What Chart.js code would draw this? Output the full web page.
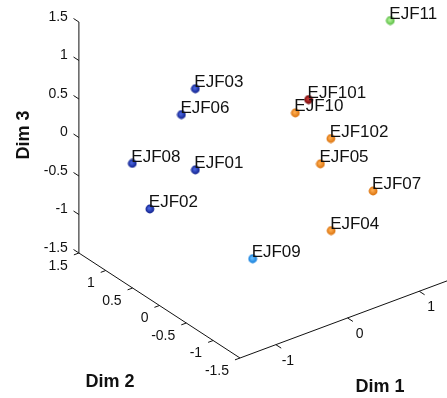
<!DOCTYPE html>
<html>
<head>
<meta charset="utf-8">
<script src="https://cdn.jsdelivr.net/npm/chart.js@4.4.0/dist/chart.umd.min.js"></script>
<style>
  html, body { margin: 0; padding: 0; background: #fff; }
  #graf { display: block; }
</style>
</head>
<body>
<canvas id="graf" width="447" height="398"></canvas>
<script>
// coordenadas MDS de cada amostra (Dim 1, Dim 2, Dim 3)
let nomes = ['EJF01', 'EJF02', 'EJF03', 'EJF04', 'EJF05', 'EJF06', 'EJF07', 'EJF08', 'EJF09', 'EJF10', 'EJF11', 'EJF101', 'EJF102']
let dim1 = [-0.55, -1.11, -0.40, 0.52, 0.82, -0.52, 1.18, -0.98, -0.35, 0.62, 1.42, 0.73, 0.89]
let dim2 = [0.60, 0.70, 0.80, -0.50, 0.10, 0.90, -0.40, 1.20, -0.20, 0.30, -0.40, 0.20, 0.00]
let dim3 = [-0.34, -0.70, 0.57, -1.00, -0.51, 0.23, -0.76, -0.38, -1.20, 0.13, 1.37, 0.31, -0.16]
let grupos = ['azul', 'azul', 'azul', 'laranja', 'laranja', 'azul', 'laranja', 'azul', 'celeste', 'laranja', 'verde', 'vinho', 'laranja']

let ticksDim12 = [-1.5, -1, -0.5, 0, 0.5, 1, 1.5]
let ticksDim1 = [-1, 0, 1]
let ticksDim3 = [-1.5, -1, -0.5, 0, 0.5, 1, 1.5]
let limite = 1.5

// cores dos marcadores: [centro, borda]
const paleta = {
    azul: ['#4a66e0', '#0c1c88'],
    laranja: ['#ffad50', '#d86e08'],
    vinho: ['#c83a3a', '#6e0000'],
    verde: ['#b4f49a', '#52b83c'],
    celeste: ['#6cc0ff', '#0a78d8']
}

// vista 3D (azimute/elevacao fixos) convertida em vetores de tela
const origem = { x: 240, y: 358 }
const e1 = { x: 71.7, y: -26.7 }
const e2 = { x: -53.7, y: -35 }
const e3 = { x: 0, y: -77 }

function projetar(a, b, c) {
    let u = a + limite, v = b + limite, w = c + limite
    return {
        x: origem.x + u * e1.x + v * e2.x + w * e3.x,
        y: origem.y + u * e1.y + v * e2.y + w * e3.y
    }
}

function marcador(grupo) {
    let cv = document.createElement('canvas')
    cv.width = 10
    cv.height = 10
    let c = cv.getContext('2d')
    let g = c.createRadialGradient(4.3, 4.3, 0.5, 5, 5, 4.6)
    g.addColorStop(0, paleta[grupo][0])
    g.addColorStop(1, paleta[grupo][1])
    c.fillStyle = g
    c.beginPath()
    c.arc(5, 5, 4.4, 0, Math.PI * 2)
    c.fill()
    return cv
}

let pontos = nomes.map((n, i) => projetar(dim1[i], dim2[i], dim3[i]))
let estilos = grupos.map(g => marcador(g))

function linha(p, q) {
    return {
        type: 'scatter',
        data: [p, q],
        showLine: true,
        borderColor: '#111',
        borderWidth: 1,
        pointRadius: 0,
        pointHoverRadius: 0
    }
}

let datasets = [{
    type: 'scatter',
    data: pontos,
    pointStyle: estilos,
    pointRadius: 5,
    pointHoverRadius: 5
}]

// eixos da caixa
datasets.push(linha(projetar(-limite, limite, -limite), projetar(-limite, limite, limite)))
datasets.push(linha(projetar(-limite, limite, -limite), projetar(-limite, -limite, -limite)))
datasets.push(linha(projetar(-limite, -limite, -limite), projetar(limite, -limite, -limite)))

// marcas de escala (tamanho em unidades de dados)
ticksDim3.forEach(t => datasets.push(linha(projetar(-limite, limite, t), projetar(-limite, limite + 0.1, t))))
ticksDim12.forEach(t => datasets.push(linha(projetar(-limite, t, -limite), projetar(-limite - 0.07, t, -limite))))
ticksDim1.forEach(t => datasets.push(linha(projetar(t, -limite, -limite), projetar(t, -limite - 0.1, -limite))))

const textos = {
    id: 'textos',
    afterDatasetsDraw(chart) {
        let ctx = chart.ctx
        let sx = chart.scales.x, sy = chart.scales.y
        let px = p => ({ x: sx.getPixelForValue(p.x), y: sy.getPixelForValue(p.y) })
        ctx.save()
        ctx.fillStyle = '#111'

        // rotulos das amostras
        ctx.font = '17px "Liberation Sans", Arial, sans-serif'
        ctx.textAlign = 'left'
        ctx.textBaseline = 'alphabetic'
        pontos.forEach((p, i) => {
            let q = px(p)
            ctx.fillText(nomes[i], q.x - 1, q.y - 1.5)
        })

        // numeros dos eixos
        ctx.font = '14px "Liberation Sans", Arial, sans-serif'
        ctx.textBaseline = 'middle'
        ctx.textAlign = 'right'
        ticksDim3.forEach(t => {
            let q = px(projetar(-limite, limite, t))
            ctx.fillText(String(t), q.x - 11, q.y - 5)
        })
        ticksDim12.forEach(t => {
            let q = px(projetar(-limite, t, -limite))
            ctx.fillText(String(t), q.x - 11, q.y + 13)
        })
        ctx.textAlign = 'center'
        ticksDim1.forEach(t => {
            let q = px(projetar(t, -limite, -limite))
            ctx.fillText(String(t), q.x + 12, q.y + 16)
        })

        // titulos dos eixos
        ctx.font = 'bold 18px "Liberation Sans", Arial, sans-serif'
        ctx.fillText('Dim 2', 110, 382)
        ctx.fillText('Dim 1', 380, 387)
        ctx.translate(24, 135)
        ctx.rotate(-Math.PI / 2)
        ctx.fillText('Dim 3', 0, 0)
        ctx.restore()
    }
}

let ctx = document.getElementById('graf').getContext('2d')
let meuGrafico = new Chart(ctx, {
    type: 'scatter',
    data: { datasets: datasets },
    options: {
        responsive: false,
        animation: false,
        layout: { padding: 0, autoPadding: false },
        plugins: { legend: { display: false }, tooltip: { enabled: false } },
        scales: {
            x: { type: 'linear', min: 0, max: 447, display: false },
            y: { type: 'linear', min: 0, max: 398, reverse: true, display: false }
        }
    },
    plugins: [textos]
})
</script>
</body>
</html>
